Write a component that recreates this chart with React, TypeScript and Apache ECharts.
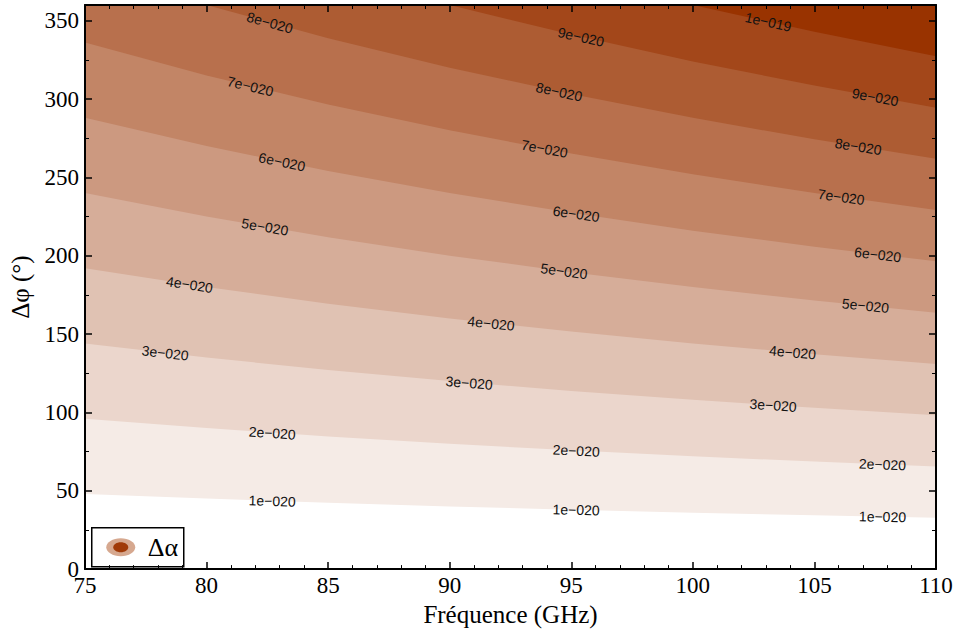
import React, { useEffect, useRef } from "react";
import * as echarts from "echarts";

// Frequencies (GHz) at which each contour boundary was read
const FREQS = [75, 80, 85, 90, 95, 100, 105, 110];

// Contour levels and their labels
const LEVEL_LABELS = ["1e−020", "2e−020", "3e−020", "4e−020", "5e−020", "6e−020", "7e−020", "8e−020", "9e−020", "1e−019"];

// Δφ (°) of each contour boundary at FREQS
const PHI_L1 = [48, 45, 42.4, 40, 37.9, 36, 34.3, 32.7];
const PHI_L2 = [96, 90, 84.7, 80, 75.8, 72, 68.6, 65.5];
const PHI_L3 = [144, 135, 127.1, 120, 113.7, 108, 102.9, 98.2];
const PHI_L4 = [192, 180, 169.4, 160, 151.6, 144, 137.1, 130.9];
const PHI_L5 = [240, 225, 211.8, 200, 189.5, 180, 171.4, 163.6];
const PHI_L6 = [288, 270, 254.1, 240, 227.4, 216, 205.7, 196.4];
const PHI_L7 = [336, 315, 296.5, 280, 265.3, 252, 240, 229.1];
const PHI_L8 = [384, 360, 338.8, 320, 303.2, 288, 274.3, 261.8];
const PHI_L9 = [432, 405, 381.2, 360, 341.1, 324, 308.6, 294.5];
const PHI_L10 = [480, 450, 423.5, 400, 378.9, 360, 342.9, 327.3];
const CURVES = [PHI_L1, PHI_L2, PHI_L3, PHI_L4, PHI_L5, PHI_L6, PHI_L7, PHI_L8, PHI_L9, PHI_L10];

// Band fill colours (above each level)
const BAND_COLORS = ["#f5ebe6", "#ebd6cc", "#e0c2b3", "#d6ad99", "#cc9980", "#c28566", "#b8704d", "#ad5c33", "#a3471a", "#993300"];

// Contour label positions (frequency, Δφ, level index)
const LABEL_F = [82.6, 81.8, 83.1, 82.4, 79.3, 78.3, 82.7, 82.7,
  95.4, 94.5, 93.9, 95.2, 94.7, 91.7, 90.8, 95.2, 95.2,
  103.1, 107.5, 106.8, 106.1, 107.6, 107.1, 104.1, 103.3, 107.8, 107.8];
const LABEL_PHI = [348.7, 308.1, 259.9, 218.4, 181.6, 137.9, 86.8, 43.5,
  339.6, 304.6, 268.3, 226.7, 190.1, 156.8, 118.8, 75.6, 37.8,
  349.2, 301.2, 269.7, 237.5, 200.7, 168.1, 138.3, 104.5, 66.8, 33.4];
const LABEL_LEVEL = [7, 6, 5, 4, 3, 2, 1, 0,
  8, 7, 6, 5, 4, 3, 2, 1, 0,
  9, 8, 7, 6, 5, 4, 3, 2, 1, 0];

const X_TICKS = { min: 75, max: 110, interval: 5 };
const Y_TICKS = { min: 0, max: 360, interval: 50 };

const SERIF = '"Liberation Serif", "Times New Roman", serif';
const SANS = '"Liberation Sans", Arial, sans-serif';

function axisCommon(showLabel: boolean, showMax: boolean) {
  return {
    type: "value" as const,
    z: 10,
    axisLine: { show: true, onZero: false, lineStyle: { color: "#000", width: 2 } },
    axisTick: { show: true, inside: true, length: 7, lineStyle: { color: "#000", width: 1.5 } },
    minorTick: { show: true, length: 4, lineStyle: { color: "#000", width: 1 } },
    splitLine: { show: false },
    axisLabel: {
      show: showLabel,
      color: "#000",
      fontFamily: SERIF,
      fontSize: 23,
      showMaxLabel: showMax,
    },
  };
}

export default function App() {
  const ref = useRef<HTMLDivElement>(null);
  useEffect(() => {
    if (!ref.current) return;
    const chart = echarts.init(ref.current, null, { renderer: "svg" });

    const bandSeries = CURVES.map((curve, k) => ({
      type: "line",
      data: FREQS.map((f, i) => [f, curve[i]]),
      symbol: "none",
      showSymbol: false,
      silent: true,
      clip: true,
      z: 1,
      xAxisIndex: 0,
      yAxisIndex: 0,
      lineStyle: { width: 0, opacity: 0 },
      areaStyle: { color: BAND_COLORS[k], opacity: 1, origin: "end" },
    }));

    const labelData = LABEL_F.map((f, i) => [f, LABEL_PHI[i], LABEL_LEVEL[i]]);

    const labelSeries = {
      type: "custom",
      xAxisIndex: 0,
      yAxisIndex: 0,
      z: 5,
      silent: true,
      encode: { x: 0, y: 1 },
      data: labelData,
      renderItem: (params: any, api: any) => {
        const f = api.value(0);
        const phi = api.value(1);
        const li = api.value(2);
        const p = api.coord([f, phi]);
        const curve = CURVES[li];
        let i = 0;
        while (i < FREQS.length - 2 && FREQS[i + 1] < f) i++;
        const a = api.coord([FREQS[i], curve[i]]);
        const b = api.coord([FREQS[i + 1], curve[i + 1]]);
        const ang = Math.atan2(b[1] - a[1], b[0] - a[0]);
        return {
          type: "text",
          x: p[0],
          y: p[1],
          rotation: -ang,
          style: {
            text: LEVEL_LABELS[li],
            fill: "#111",
            font: `14px ${SANS}`,
            align: "center",
            verticalAlign: "middle",
            textAlign: "center",
            textVerticalAlign: "middle",
          },
        };
      },
    };

    const option: any = {
      animation: false,
      backgroundColor: "#fff",
      grid: { left: 85, right: 23, top: 5, bottom: 61, containLabel: false },
      xAxis: [
        {
          ...axisCommon(true, true),
          ...X_TICKS,
          position: "bottom",
          minorTick: { show: true, splitNumber: 5, length: 4, lineStyle: { color: "#000", width: 1 } },
          axisLabel: { ...axisCommon(true, true).axisLabel, margin: 5 },
          name: "Fréquence (GHz)",
          nameLocation: "middle",
          nameGap: 27,
          nameTextStyle: { color: "#000", fontFamily: SERIF, fontSize: 25 },
        },
        {
          ...axisCommon(false, false),
          ...X_TICKS,
          position: "top",
          minorTick: { show: true, splitNumber: 5, length: 4, lineStyle: { color: "#000", width: 1 } },
        },
      ],
      yAxis: [
        {
          ...axisCommon(true, false),
          ...Y_TICKS,
          position: "left",
          minorTick: { show: true, splitNumber: 2, length: 4, lineStyle: { color: "#000", width: 1 } },
          axisLabel: { ...axisCommon(true, false).axisLabel, margin: 6 },
          name: "Δφ (°)",
          nameLocation: "middle",
          nameGap: 52,
          nameRotate: 90,
          nameTextStyle: { color: "#000", fontFamily: SERIF, fontSize: 25 },
        },
        {
          ...axisCommon(false, false),
          ...Y_TICKS,
          position: "right",
          minorTick: { show: true, splitNumber: 2, length: 4, lineStyle: { color: "#000", width: 1 } },
        },
      ],
      graphic: [
        {
          type: "group",
          left: 91,
          top: 527,
          z: 100,
          children: [
            {
              type: "rect",
              shape: { x: 0, y: 0, width: 92, height: 39 },
              style: { fill: "#fff", stroke: "#000", lineWidth: 1.5 },
            },
            {
              type: "ellipse",
              shape: { cx: 29, cy: 19.5, rx: 14.5, ry: 9 },
              style: { fill: "#d6a88f" },
            },
            {
              type: "ellipse",
              shape: { cx: 29, cy: 19.5, rx: 7.5, ry: 5 },
              style: { fill: "#a03a08" },
            },
            {
              type: "text",
              x: 56,
              y: 20,
              style: {
                text: "Δα",
                fill: "#000",
                font: `26px ${SERIF}`,
                verticalAlign: "middle",
                textVerticalAlign: "middle",
              },
            },
          ],
        },
      ],
      series: [...bandSeries, labelSeries],
    };

    chart.setOption(option);
    return () => chart.dispose();
  }, []);

  return (
    <div
      ref={ref}
      style={{ position: "absolute", left: 0, top: 0, width: 959, height: 632 }}
    />
  );
}
